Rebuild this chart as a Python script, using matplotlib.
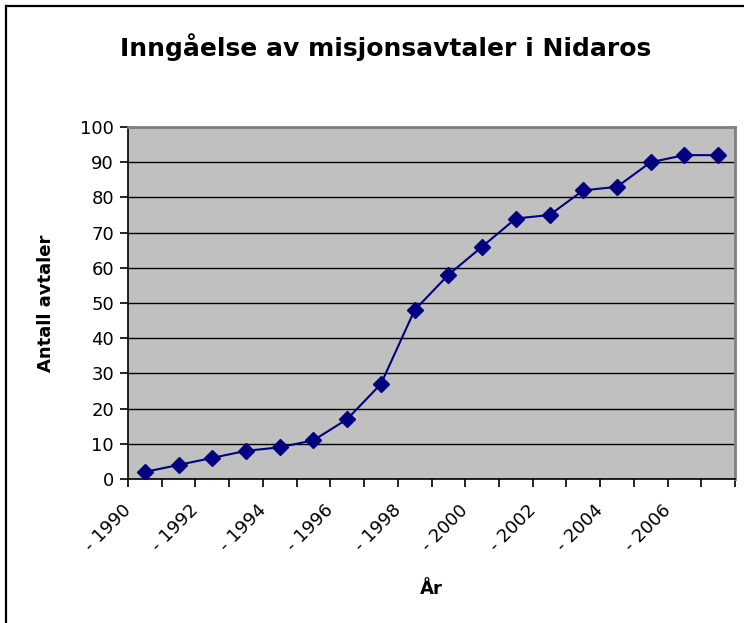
import matplotlib
matplotlib.use("Agg")
from matplotlib import pyplot as plt
from matplotlib.lines import Line2D
from matplotlib.transforms import ScaledTranslation

years = list(range(1990, 2008))
avtaler = [2, 4, 6, 8, 9, 11, 17, 27, 48, 58, 66, 74, 75, 82, 83, 90, 92, 92]
tick_labels = ["- 1990", "- 1992", "- 1994", "- 1996", "- 1998",
               "- 2000", "- 2002", "- 2004", "- 2006"]

plt.rcParams['font.family'] = ['DejaVu Sans']

W, H = 744, 623
fig = plt.figure(figsize=(W / 100, H / 100), dpi=100)

# ramme rundt diagrammet (venstre og topp synlig)
fig.add_artist(Line2D([6 / W, 6 / W], [0, 1 - 6 / H], color="black", lw=1.6,
                      transform=fig.transFigure))
fig.add_artist(Line2D([6 / W, 1], [1 - 6 / H, 1 - 6 / H], color="black", lw=1.6,
                      transform=fig.transFigure))

ax = fig.add_axes([128 / W, (H - 479) / H, 607 / W, 352 / H])
ax.set_facecolor("#C0C0C0")

x = list(range(len(years)))
ax.plot(x, avtaler, color="#000080", marker="D", markersize=8, lw=1.5, zorder=3)

ax.set_xlim(-0.5, len(years) - 0.5)
ax.set_ylim(0, 100)
ax.set_yticks(range(0, 101, 10))
ax.yaxis.grid(True, color="black", lw=1)
ax.set_axisbelow(True)

ax.set_xticks(x[::2])
ax.set_xticklabels(tick_labels, rotation=45, ha="right", va="top",
                   rotation_mode="anchor", fontsize=13)
ax.set_xticks([i - 0.5 for i in range(len(years) + 1)], minor=True)
ax.tick_params(axis="x", which="major", length=0, pad=16)
ax.tick_params(axis="x", which="minor", length=6, width=1.2, direction="out")
ax.tick_params(axis="y", length=6, width=1.2, labelsize=13, pad=4)
shift = ScaledTranslation(-23 / 100, 0, fig.dpi_scale_trans)
for lab in ax.get_xticklabels():
    lab.set_transform(lab.get_transform() + shift)

for side in ["top", "right"]:
    ax.spines[side].set_color("#808080")
    ax.spines[side].set_linewidth(2)
for side in ["left", "bottom"]:
    ax.spines[side].set_color("black")
    ax.spines[side].set_linewidth(1.2)

ax.set_ylabel("Antall avtaler", fontsize=13, fontweight="bold", labelpad=18)
ax.set_xlabel("År", fontsize=13, fontweight="bold", labelpad=18)

fig.text(386 / W, 1 - 47 / H, "Inngåelse av misjonsavtaler i Nidaros",
         ha="center", va="center", fontsize=18, fontweight="bold")

fig.savefig("out.png", dpi=100)
